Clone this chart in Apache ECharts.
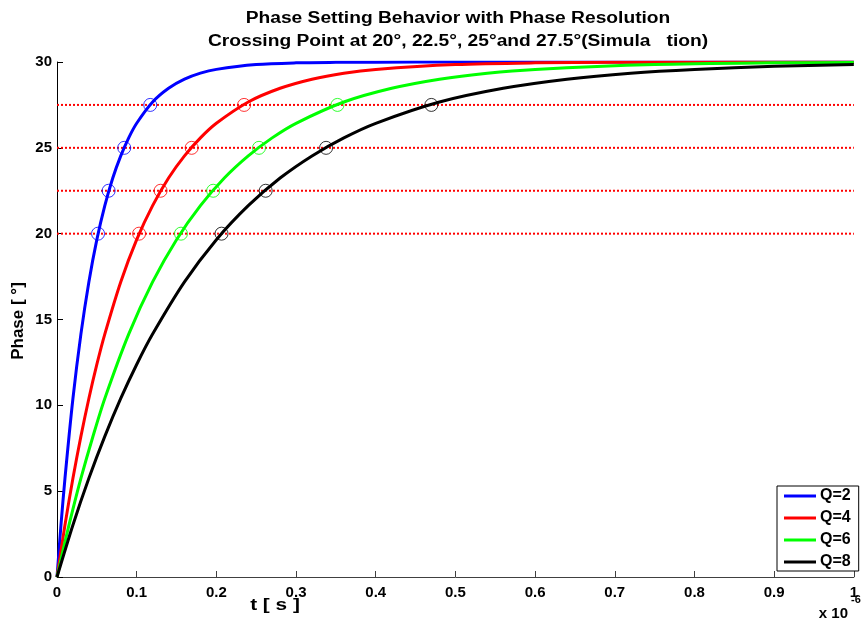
<!DOCTYPE html>
<html>
<head>
<meta charset="utf-8">
<script src="https://cdn.jsdelivr.net/npm/echarts@6/dist/echarts.min.js"></script>
<style>html,body{margin:0;padding:0;background:#fff}#c{width:861px;height:624px}</style>
</head>
<body>
<div id="c"></div>
<script>
// ---- data (t in units of 1e-6 s, phase in degrees) ----
const blueT  = [0, 0.005, 0.01, 0.02, 0.03, 0.04, 0.05, 0.06, 0.07, 0.08, 0.09, 0.10, 0.12, 0.14, 0.16, 0.18, 0.20, 0.25, 0.30, 0.35, 0.40, 0.50, 0.60, 0.70, 0.80, 0.90, 1.00];
const blueV  = [0, 3.03, 5.75, 10.40, 14.15, 17.19, 19.65, 21.63, 23.24, 24.53, 25.58, 26.43, 27.67, 28.47, 29.00, 29.35, 29.57, 29.85, 29.95, 29.98, 29.99, 30, 30, 30, 30, 30, 30];
const redT   = [0, 0.01, 0.02, 0.03, 0.04, 0.05, 0.06, 0.08, 0.10, 0.12, 0.14, 0.16, 0.18, 0.20, 0.24, 0.28, 0.32, 0.36, 0.40, 0.50, 0.60, 0.70, 0.80, 0.90, 1.00];
const redV   = [0, 3.03, 5.75, 8.19, 10.40, 12.38, 14.15, 17.19, 19.65, 21.63, 23.24, 24.53, 25.58, 26.43, 27.67, 28.47, 29.00, 29.35, 29.57, 29.85, 29.95, 29.98, 29.99, 30, 30];
const greenT = [0, 0.01, 0.02, 0.03, 0.045, 0.06, 0.09, 0.12, 0.15, 0.18, 0.21, 0.24, 0.27, 0.30, 0.36, 0.42, 0.48, 0.54, 0.60, 0.75, 0.90, 1.00];
const greenV = [0, 2.05, 3.96, 5.75, 8.17, 10.40, 14.15, 17.19, 19.65, 21.63, 23.24, 24.53, 25.58, 26.43, 27.67, 28.47, 29.00, 29.35, 29.57, 29.85, 29.95, 29.97];
const blackT = [0, 0.02, 0.04, 0.06, 0.08, 0.10, 0.12, 0.16, 0.20, 0.24, 0.28, 0.32, 0.36, 0.40, 0.48, 0.56, 0.64, 0.72, 0.80, 0.90, 1.00];
const blackV = [0, 3.03, 5.75, 8.19, 10.40, 12.38, 14.15, 17.19, 19.65, 21.63, 23.24, 24.53, 25.58, 26.43, 27.67, 28.47, 29.00, 29.35, 29.57, 29.75, 29.85];

const levels      = [20, 22.5, 25, 27.5];
const blueCross   = [0.0515, 0.0648, 0.0844, 0.117];
const redCross    = [0.103, 0.130, 0.169, 0.2348];
const greenCross  = [0.1556, 0.196, 0.2535, 0.352];
const blackCross  = [0.2065, 0.2619, 0.3377, 0.4698];

const names  = ['Q=2', 'Q=4', 'Q=6', 'Q=8'];
const colors = ['#0000ff', '#ff0000', '#00ff00', '#000000'];
const xRange = [0, 1];

const FONT = '"Liberation Sans", Arial, Helvetica, sans-serif';
const zip = (a, b) => a.map((v, i) => [v, b[i]]);

const curves = [[blueT, blueV], [redT, redV], [greenT, greenV], [blackT, blackV]];
const crosses = [blueCross, redCross, greenCross, blackCross];

const series = [];
levels.forEach(lv => {
  series.push({
    type: 'line', name: 'ref' + lv, silent: true, symbol: 'none', z: 1,
    data: [[xRange[0], lv], [xRange[1], lv]],
    lineStyle: { color: '#ff0000', width: 2, type: [2, 2] }
  });
});
curves.forEach((c, i) => {
  series.push({
    type: 'line', name: names[i], symbol: 'none', smooth: 0.3, z: 3,
    data: zip(c[0], c[1]),
    lineStyle: { color: colors[i], width: 3 },
    itemStyle: { color: colors[i] }
  });
});
crosses.forEach((cr, i) => {
  series.push({
    type: 'scatter', name: 'x' + names[i], symbol: 'circle', symbolSize: 13, z: 4, silent: true,
    data: zip(cr, levels),
    itemStyle: { color: 'rgba(0,0,0,0)', borderColor: colors[i], borderWidth: 1 }
  });
});

const chart = echarts.init(document.getElementById('c'), null, { renderer: 'canvas' });
chart.setOption({
  animation: false,
  backgroundColor: '#fff',
  grid: { left: 57, right: 4, top: 62, bottom: 47, containLabel: false },
  xAxis: {
    type: 'value', min: 0, max: 1, interval: 0.1,
    axisLine: { lineStyle: { color: '#404040', width: 1 } },
    axisTick: { inside: true, length: 6, lineStyle: { color: '#404040' } },
    axisLabel: { color: '#000', fontSize: 15, fontWeight: 'bold', fontFamily: FONT, margin: 8 },
    splitLine: { show: false }
  },
  yAxis: {
    type: 'value', min: 0, max: 30, interval: 5,
    axisLine: { show: true, lineStyle: { color: '#000', width: 1 } },
    axisTick: { show: true, inside: true, length: 6, lineStyle: { color: '#000' } },
    axisLabel: { color: '#000', fontSize: 15, fontWeight: 'bold', fontFamily: FONT, margin: 5 },
    splitLine: { show: false }
  },
  legend: {
    data: names, orient: 'vertical', left: 777, top: 486,
    icon: 'rect', padding: [2, 8, 1, 7], itemGap: 6, itemWidth: 32, itemHeight: 3,
    borderColor: '#000', borderWidth: 1, backgroundColor: '#fff',
    textStyle: { color: '#000', fontSize: 16, fontWeight: 'bold', fontFamily: FONT, lineHeight: 16, padding: [0, 0, 0, -1] }
  },
  graphic: [
    { type: 'text', x: 458, y: 19, scaleX: 1.2, style: { text: 'Phase Setting Behavior with Phase Resolution', font: 'bold 16px ' + FONT, fill: '#000', textAlign: 'center', textVerticalAlign: 'middle' } },
    { type: 'text', x: 458, y: 42, scaleX: 1.2, style: { text: 'Crossing Point at 20°, 22.5°, 25°and 27.5°(Simula   tion)', font: 'bold 16px ' + FONT, fill: '#000', textAlign: 'center', textVerticalAlign: 'middle' } },
    { type: 'text', x: 275, y: 606, scaleX: 1.3, style: { text: 't [ s ]', font: 'bold 16px ' + FONT, fill: '#000', textAlign: 'center', textVerticalAlign: 'middle' } },
    { type: 'text', x: 18, y: 321, rotation: Math.PI / 2, style: { text: 'Phase [ °]', font: 'bold 17px ' + FONT, fill: '#000', textAlign: 'center', textVerticalAlign: 'middle' } },
    { type: 'text', x: 848, y: 614, style: { text: 'x 10', font: 'bold 15px ' + FONT, fill: '#000', textAlign: 'right', textVerticalAlign: 'middle' } },
    { type: 'text', x: 851, y: 600, style: { text: '-6', font: 'bold 11px ' + FONT, fill: '#000', textAlign: 'left', textVerticalAlign: 'middle' } }
  ],
  series: series
});
</script>
</body>
</html>
